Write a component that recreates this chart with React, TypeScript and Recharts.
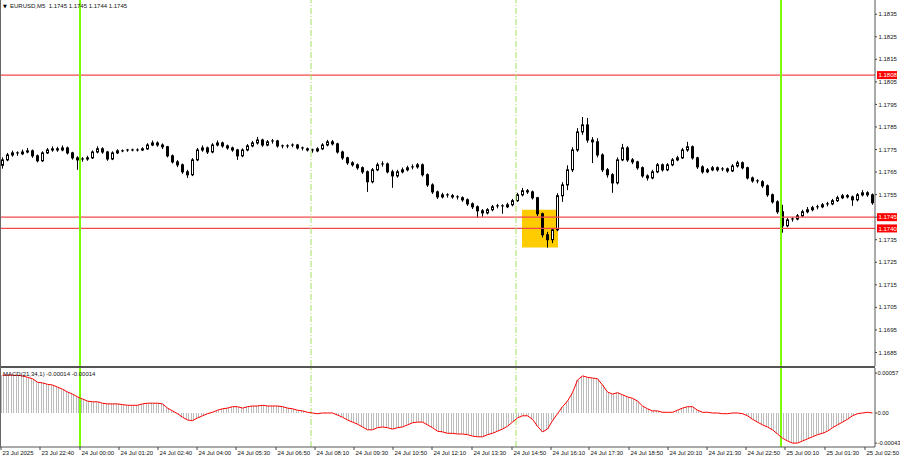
import React from "react";
import { ComposedChart, Bar, Line, XAxis, YAxis, ReferenceLine, ReferenceArea } from "recharts";

const FONT = '"Liberation Sans", Arial, sans-serif';

const firstOpen = 1.1768;
const closes = [
    1.17704, 1.17726, 1.17735, 1.17731, 1.17739, 1.17744, 1.17722, 1.177, 1.17735, 1.17748,
    1.17753, 1.17748, 1.17757, 1.17735, 1.17713, 1.17704, 1.17708, 1.17713, 1.17739, 1.17753,
    1.17739, 1.17708, 1.17735, 1.17744, 1.17744, 1.17748, 1.17748, 1.17748, 1.17753, 1.1777,
    1.17779, 1.1777, 1.17762, 1.17722, 1.17695, 1.17682, 1.17651, 1.17638, 1.17704, 1.17748,
    1.17757, 1.17739, 1.1777, 1.17779, 1.17766, 1.17757, 1.17748, 1.17722, 1.17748, 1.17766,
    1.17779, 1.17792, 1.1777, 1.17784, 1.17788, 1.17766, 1.17762, 1.17766, 1.1777, 1.17757,
    1.17753, 1.17748, 1.17744, 1.17753, 1.1777, 1.17784, 1.17775, 1.17739, 1.17713, 1.17691,
    1.17682, 1.17669, 1.17651, 1.17607, 1.1766, 1.17682, 1.17686, 1.17651, 1.17633, 1.17651,
    1.1766, 1.17669, 1.17673, 1.17682, 1.17638, 1.17593, 1.17562, 1.1754, 1.17549, 1.17545,
    1.1754, 1.17536, 1.17527, 1.17509, 1.17496, 1.17478, 1.17469, 1.17483, 1.17496, 1.175,
    1.17496, 1.17505, 1.17523, 1.17549, 1.17567, 1.17562, 1.17536, 1.17465, 1.17372, 1.1735,
    1.17394, 1.17545, 1.17593, 1.1766, 1.17748, 1.17828, 1.17859, 1.17792, 1.17784, 1.17726,
    1.1766, 1.17638, 1.17602, 1.17704, 1.17757, 1.17704, 1.17695, 1.17669, 1.17633, 1.17624,
    1.17651, 1.17682, 1.1766, 1.17682, 1.17704, 1.17713, 1.17748, 1.17762, 1.17713, 1.17673,
    1.17651, 1.1766, 1.17669, 1.1766, 1.17664, 1.17655, 1.17677, 1.17691, 1.17669, 1.17624,
    1.17611, 1.17607, 1.17589, 1.17549, 1.17518, 1.17474, 1.17412, 1.17438, 1.17442, 1.17456,
    1.17474, 1.17483, 1.17492, 1.17496, 1.17505, 1.17509, 1.17523, 1.17536, 1.17545, 1.1754,
    1.17527, 1.17549, 1.17558, 1.17549, 1.17514,
];
const highs = [
    1.17715, 1.17735, 1.17745, 1.17742, 1.1775, 1.17757, 1.1775, 1.17728, 1.17742, 1.17757,
    1.17764, 1.17762, 1.17768, 1.17763, 1.1774, 1.1772, 1.17716, 1.17722, 1.17746, 1.17764,
    1.1776, 1.17744, 1.17742, 1.17751, 1.1775, 1.17753, 1.17754, 1.17755, 1.1776, 1.17778,
    1.1779, 1.17786, 1.17777, 1.17766, 1.17728, 1.17703, 1.17688, 1.1766, 1.17712, 1.17757,
    1.17768, 1.17763, 1.17778, 1.1779, 1.17785, 1.17772, 1.17763, 1.17753, 1.17755, 1.17774,
    1.17788, 1.17806, 1.17798, 1.17792, 1.17797, 1.17793, 1.17772, 1.17773, 1.17777, 1.17775,
    1.17763, 1.17759, 1.17754, 1.1776, 1.17778, 1.17793, 1.17792, 1.1778, 1.17745, 1.17718,
    1.17698, 1.17688, 1.17675, 1.17657, 1.17668, 1.17692, 1.17698, 1.17692, 1.1766, 1.1766,
    1.1767, 1.17678, 1.17684, 1.1769, 1.17688, 1.17644, 1.176, 1.17568, 1.17558, 1.17556,
    1.17553, 1.17547, 1.17542, 1.17533, 1.17515, 1.17502, 1.17486, 1.1749, 1.17504, 1.17509,
    1.17507, 1.17514, 1.17531, 1.17558, 1.1758, 1.17575, 1.17568, 1.1754, 1.1747, 1.17385,
    1.17402, 1.17556, 1.17605, 1.1768, 1.1776, 1.17845, 1.17894, 1.1789, 1.17805, 1.178,
    1.17733, 1.17668, 1.17645, 1.17715, 1.17775, 1.17765, 1.17712, 1.177, 1.17675, 1.1764,
    1.1766, 1.1769, 1.17688, 1.1769, 1.17712, 1.17722, 1.17757, 1.17784, 1.17768, 1.17718,
    1.1768, 1.17668, 1.17677, 1.17675, 1.17672, 1.1767, 1.17685, 1.177, 1.17697, 1.17674,
    1.1763, 1.17618, 1.17614, 1.17595, 1.17555, 1.17525, 1.17505, 1.17446, 1.1745, 1.17464,
    1.17483, 1.17495, 1.175, 1.17505, 1.17513, 1.17518, 1.17531, 1.17545, 1.17553, 1.17552,
    1.17546, 1.17557, 1.1757, 1.17565, 1.17555,
];
const lows = [
    1.17665, 1.17698, 1.17718, 1.17722, 1.17725, 1.17733, 1.17713, 1.17693, 1.17695, 1.1773,
    1.1774, 1.1774, 1.17742, 1.17728, 1.17705, 1.1766, 1.17696, 1.177, 1.17708, 1.17733,
    1.17731, 1.177, 1.17703, 1.1773, 1.17738, 1.1774, 1.17742, 1.17741, 1.17743, 1.17748,
    1.17765, 1.17762, 1.17752, 1.17715, 1.17688, 1.17672, 1.17642, 1.17624, 1.17632, 1.17698,
    1.1774, 1.1773, 1.17733, 1.17764, 1.17758, 1.17749, 1.1774, 1.17704, 1.17716, 1.17742,
    1.1776, 1.17772, 1.17762, 1.17764, 1.17776, 1.17758, 1.17755, 1.17756, 1.1776, 1.1775,
    1.17746, 1.17741, 1.17736, 1.17738, 1.17748, 1.17764, 1.17768, 1.17732, 1.17704, 1.17682,
    1.17674, 1.1766, 1.17642, 1.17562, 1.176, 1.17654, 1.17674, 1.17644, 1.1758, 1.17625,
    1.17644, 1.17653, 1.17662, 1.17665, 1.1763, 1.17584, 1.17553, 1.17531, 1.17533, 1.17537,
    1.17532, 1.17528, 1.17518, 1.175, 1.17486, 1.17447, 1.17452, 1.17462, 1.17476, 1.17489,
    1.17465, 1.1749, 1.17498, 1.17518, 1.17542, 1.17553, 1.17528, 1.17455, 1.1736, 1.17315,
    1.17335, 1.17388, 1.17518, 1.1757, 1.1765, 1.1774, 1.17815, 1.1778, 1.1769, 1.17715,
    1.1765, 1.17625, 1.17558, 1.17595, 1.17698, 1.17695, 1.17685, 1.1766, 1.17625, 1.17612,
    1.17618, 1.17645, 1.17652, 1.17654, 1.17676, 1.17698, 1.17708, 1.1774, 1.17705, 1.17664,
    1.17643, 1.17645, 1.17654, 1.17652, 1.17654, 1.17647, 1.1765, 1.1767, 1.17662, 1.17617,
    1.17603, 1.176, 1.1758, 1.1754, 1.1751, 1.17465, 1.17381, 1.17405, 1.1743, 1.17436,
    1.1745, 1.17467, 1.17476, 1.17485, 1.1749, 1.17498, 1.17503, 1.17517, 1.1753, 1.17533,
    1.175, 1.1752, 1.17542, 1.1754, 1.17505,
];
const macdValues = [
    0.00054, 0.00054, 0.00054, 0.00054, 0.00053, 0.00051, 0.00049, 0.00044, 0.00043, 0.00041,
    0.0004, 0.00037, 0.00034, 0.0003, 0.00027, 0.00023, 0.0002, 0.00017, 0.00016, 0.00016,
    0.00014, 0.00013, 0.00013, 0.00013, 0.00012, 0.00011, 0.00011, 0.00011, 0.00013, 0.00014,
    0.00014, 0.00014, 0.00013, 0.00007, 0.00003, -0.00001, -0.00006, -0.0001, -0.00011, -0.00007,
    -0.00004, -0.00001, 0.00001, 0.00004, 0.00006, 0.00007, 0.00009, 0.00009, 0.00007, 0.00009,
    0.0001, 0.0001, 0.00011, 0.0001, 0.0001, 0.0001, 0.00009, 0.00007, 0.00006, 0.00004,
    0.00003, 0.00001, 0, -0.00001, 0, 0, 0, -0.00003, -0.00006, -0.0001,
    -0.00013, -0.00016, -0.0002, -0.00024, -0.00024, -0.00021, -0.0002, -0.00021, -0.00023, -0.00021,
    -0.0002, -0.00017, -0.00014, -0.00013, -0.00013, -0.00017, -0.00021, -0.00026, -0.00027, -0.00029,
    -0.00029, -0.0003, -0.0003, -0.00031, -0.00033, -0.00034, -0.00034, -0.00031, -0.00029, -0.00026,
    -0.00023, -0.00019, -0.00013, -0.00007, -0.00004, -0.00004, -0.00009, -0.00019, -0.00027, -0.00023,
    -0.00011, -0.00001, 0.00009, 0.00017, 0.00029, 0.00047, 0.00053, 0.00051, 0.0005, 0.00049,
    0.0004, 0.0003, 0.00027, 0.00029, 0.00026, 0.00023, 0.00021, 0.00017, 0.0001, 0.00006,
    0.00003, 0.00003, 0.00001, 0.00001, 0.00001, 0.00004, 0.00007, 0.00009, 0.00009, 0.00004,
    0.00001, 0.00001, 0, 0, -0.00001, -0.00001, 0, 0, -0.00001, -0.00004,
    -0.00009, -0.00013, -0.00017, -0.0002, -0.00024, -0.0003, -0.00036, -0.0004, -0.00043, -0.00043,
    -0.0004, -0.00037, -0.00034, -0.00031, -0.00029, -0.00026, -0.00021, -0.00017, -0.00013, -0.00009,
    -0.00004, -0.00001, 0, 0.00001, 0,
];

const priceTicks = [
    1.1835, 1.1825, 1.1815, 1.1805, 1.1795, 1.1785, 1.1775, 1.1765,
    1.1755, 1.1745, 1.1735, 1.1725, 1.1715, 1.1705, 1.1695, 1.1685,
];
const priceLevels = [1.1808, 1.1745, 1.174];
const macdTicks = [0.00057, 0, -0.00043];
const macdTickLabels = ["0.00057", "0.00", "-0.00043"];
const timeTickPos = [
    0.2, 8, 16, 23.8, 31.6, 39.4, 47.2, 55.2, 63, 70.8, 78.6, 86.4,
    94.4, 102.4, 110.2, 117.8, 125.8, 133.6, 141.4, 149.2, 157, 165, 173,
];
const timeTickLabels = [
    "23 Jul 2025", "23 Jul 22:40", "24 Jul 00:00", "24 Jul 01:20", "24 Jul 02:40", "24 Jul 04:00",
    "24 Jul 05:30", "24 Jul 06:50", "24 Jul 08:10", "24 Jul 09:30", "24 Jul 10:50", "24 Jul 12:10",
    "24 Jul 13:30", "24 Jul 14:50", "24 Jul 16:10", "24 Jul 17:30", "24 Jul 18:50", "24 Jul 20:10",
    "24 Jul 21:30", "24 Jul 22:50", "25 Jul 00:10", "25 Jul 01:30", "25 Jul 02:50",
];
const dayLines = [16, 156.2];
const sessionLines = [62.2, 103.2];
const zoneX = [104.4, 111.6];
const zoneY = [1.17315, 1.17483];

const data = closes.map((c, i) => ({
    t: i + 0.5,
    open: i === 0 ? firstOpen : closes[i - 1],
    close: c,
    high: highs[i],
    low: lows[i],
    range: [lows[i], highs[i]],
    macd: macdValues[i],
}));

const Candle = (props: any) => {
    const { x, y, width, height, payload } = props;
    if (x == null || !payload) return null;
    const top = Math.min(y, y + height);
    const h = Math.abs(height);
    const span = payload.high - payload.low || 1e-9;
    const py = (p: number) => top + ((payload.high - p) / span) * h;
    const cx = Math.floor(x + width / 2) + 0.5;
    const yo = py(payload.open);
    const yc = py(payload.close);
    const bTop = Math.min(yo, yc);
    const bBot = Math.max(yo, yc);
    const bull = payload.close > payload.open;
    return (
        <g>
            <line x1={cx} x2={cx} y1={top} y2={top + h} stroke="#000" strokeWidth={1} />
            {bBot - bTop < 1 ? (
                <line x1={cx - 1.5} x2={cx + 1.5} y1={bTop} y2={bTop} stroke="#000" strokeWidth={1} />
            ) : (
                <rect x={cx - 1} y={bTop} width={2} height={bBot - bTop} fill={bull ? "#fff" : "#000"} stroke="#000" strokeWidth={1} />
            )}
        </g>
    );
};

const MacdBar = (props: any) => {
    const { x, y, height } = props;
    if (x == null || !height) return null;
    const top = Math.min(y, y + height);
    const bot = Math.max(y, y + height);
    const a = Math.floor(x);
    return (
        <g stroke="#bcbcbc" strokeWidth={1}>
            <line x1={a + 1.5} x2={a + 1.5} y1={top} y2={bot} />
            <line x1={a + 3.5} x2={a + 3.5} y1={top} y2={bot} />
        </g>
    );
};

const PriceTick = (props: any) => {
    const { x, y, payload } = props;
    // the red price tags sit on top of the axis label they cover
    const covered = priceLevels.some(l => Math.abs(l - payload.value) < 0.00015);
    return (
        <g>
            <line x1={x} x2={x + 2} y1={y} y2={y} stroke="#444" />
            {!covered && (
                <text x={x + 3.5} y={y + 2.1} fontSize={6} fill="#111" fontFamily={FONT}>
                    {payload.value.toFixed(4)}
                </text>
            )}
        </g>
    );
};

const MacdTick = (props: any) => {
    const { x, y, payload } = props;
    const k = macdTicks.indexOf(payload.value);
    return (
        <g>
            <line x1={x} x2={x + 2} y1={y} y2={y} stroke="#444" />
            <text x={x + 2.5} y={y + 2.1} fontSize={5.8} fill="#111" fontFamily={FONT}>
                {k >= 0 ? macdTickLabels[k] : ""}
            </text>
        </g>
    );
};

const TimeTick = (props: any) => {
    const { x, y, payload } = props;
    const k = timeTickPos.indexOf(payload.value);
    return (
        <g>
            <line x1={x} x2={x} y1={y} y2={y + 3} stroke="#444" />
            <text x={x + 1.5} y={y + 7.5} fontSize={6} fill="#111" fontFamily={FONT}>
                {k >= 0 ? timeTickLabels[k] : ""}
            </text>
        </g>
    );
};

const PriceTag = (props: any) => {
    const vb = props.viewBox || {};
    const x = vb.x + vb.width + 2;
    const y = vb.y;
    return (
        <g>
            <rect x={x} y={y - 4} width={20} height={8} fill="#ff0000" />
            <text x={x + 1.5} y={y + 2.1} fontSize={6} fill="#fff" fontFamily={FONT}>
                {props.price.toFixed(4)}
            </text>
        </g>
    );
};

export default function App() {
    return (
        <div style={{ position: "fixed", left: 0, top: 0, width: 900, height: 460, background: "#fff", overflow: "hidden" }}>
            <div style={{ position: "absolute", left: 0, top: 0 }}>
                <ComposedChart width={900} height={366} data={data} margin={{ top: 0, right: 0, bottom: 0, left: 0 }}>
                    <XAxis dataKey="t" type="number" domain={[0, 175]} allowDataOverflow hide />
                    <YAxis
                        orientation="right"
                        type="number"
                        width={25}
                        domain={[1.1679, 1.18413]}
                        allowDataOverflow
                        ticks={priceTicks}
                        interval={0}
                        tickSize={0}
                        tickMargin={0}
                        tickLine={false}
                        tick={<PriceTick />}
                        axisLine={{ stroke: "#555" }}
                    />
                    <ReferenceArea x1={zoneX[0]} x2={zoneX[1]} y1={zoneY[0]} y2={zoneY[1]} fill="#ffcc00" fillOpacity={1} stroke="none" />
                    {priceLevels.map(p => (
                        <ReferenceLine key={p} y={p} stroke="#f04848" strokeWidth={1.2} label={<PriceTag price={p} />} />
                    ))}
                    {dayLines.map(t => (
                        <ReferenceLine key={t} x={t} stroke="#7cfc00" strokeWidth={2} />
                    ))}
                    {sessionLines.map(t => (
                        <ReferenceLine key={t} x={t} stroke="#a4e060" strokeWidth={1} strokeDasharray="6 2 1 2" />
                    ))}
                    <Bar dataKey="range" barSize={5} shape={<Candle />} isAnimationActive={false} />
                </ComposedChart>
            </div>
            <div style={{ position: "absolute", left: 0, top: 366, width: 875, height: 2, background: "#555" }} />
            <div style={{ position: "absolute", left: 0, top: 368 }}>
                <ComposedChart width={900} height={92} data={data} margin={{ top: 0, right: 0, bottom: 0, left: 0 }}>
                    <XAxis
                        dataKey="t"
                        type="number"
                        domain={[0, 175]}
                        allowDataOverflow
                        height={13}
                        ticks={timeTickPos}
                        interval={0}
                        tickSize={0}
                        tickMargin={0}
                        tickLine={false}
                        tick={<TimeTick />}
                        axisLine={{ stroke: "#555" }}
                    />
                    <YAxis
                        orientation="right"
                        type="number"
                        width={25}
                        domain={[-0.000486, 0.000643]}
                        allowDataOverflow
                        ticks={macdTicks}
                        interval={0}
                        tickSize={0}
                        tickMargin={0}
                        tickLine={false}
                        tick={<MacdTick />}
                        axisLine={{ stroke: "#555" }}
                    />
                    {dayLines.map(t => (
                        <ReferenceLine key={t} x={t} stroke="#7cfc00" strokeWidth={2} />
                    ))}
                    {sessionLines.map(t => (
                        <ReferenceLine key={t} x={t} stroke="#a4e060" strokeWidth={1} strokeDasharray="6 2 1 2" />
                    ))}
                    <Bar dataKey="macd" barSize={5} shape={<MacdBar />} isAnimationActive={false} />
                    <Line dataKey="macd" type="linear" stroke="#ff0000" strokeWidth={1} dot={false} isAnimationActive={false} />
                </ComposedChart>
            </div>
            <div style={{ position: "absolute", left: 0, top: 0, width: 1, height: 447, background: "#666" }} />
            <svg width={900} height={460} style={{ position: "absolute", left: 0, top: 0, pointerEvents: "none" }}>
                <text x={3} y={8} fontSize={5} fill="#000" fontFamily="DejaVu Sans">▼</text>
                <text x={10} y={8.2} fontSize={6} fill="#111" fontFamily={FONT} style={{ whiteSpace: "pre" }}>
                    EURUSD,M5  1.1745 1.1745 1.1744 1.1745
                </text>
                <text x={3} y={375.5} fontSize={6} fill="#111" fontFamily={FONT} style={{ whiteSpace: "pre" }}>
                    MACD(21,34,1) -0.00014 -0.00014
                </text>
            </svg>
        </div>
    );
}
